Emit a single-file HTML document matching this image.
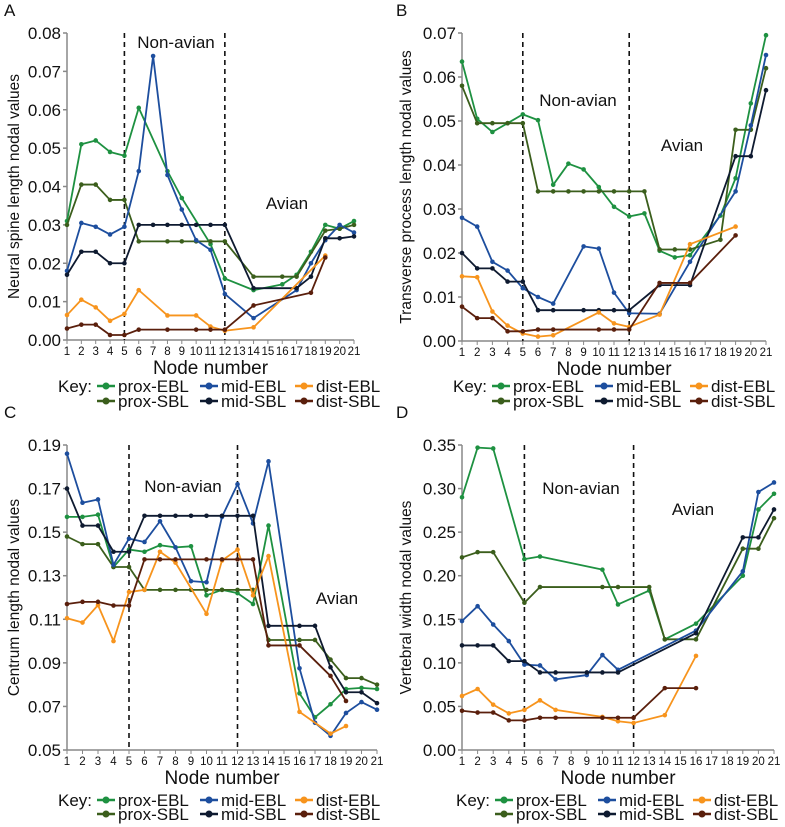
<!DOCTYPE html>
<html><head><meta charset="utf-8"><style>
body{margin:0;background:#fff;}
svg{display:block;font-family:"Liberation Sans",Arial,sans-serif;}
</style></head><body>
<svg id="chart" width="785" height="827" viewBox="0 0 785 827" xmlns="http://www.w3.org/2000/svg"></svg>
<script>
const nodes=[1,2,3,4,5,6,7,8,9,10,11,12,13,14,15,16,17,18,19,20,21];
const seriesNames=["prox-EBL","prox-SBL","mid-EBL","mid-SBL","dist-EBL","dist-SBL"];
const seriesColors=["#1e9141","#3b5e1c","#1d4e9e","#0e1a30","#f7941d","#5a1f0c"];
const N=null;
// Panel A
const A_proxEBL=[0.031,0.051,0.052,0.049,0.048,0.0605,N,0.044,0.037,N,0.025,0.016,N,0.013,N,0.0145,0.017,0.023,0.030,0.029,0.031];
const A_proxSBL=[0.030,0.0405,0.0405,0.0365,0.0365,0.0257,N,0.0257,0.0257,0.0257,0.0257,0.0257,N,0.0165,N,0.0165,0.0165,N,0.0285,0.029,0.030];
const A_midEBL=[0.018,0.0305,0.0295,0.0275,0.0295,0.044,0.074,0.043,0.034,0.026,0.0235,0.012,N,0.0057,N,N,0.013,0.020,0.026,0.030,0.028];
const A_midSBL=[0.017,0.023,0.023,0.020,0.020,0.030,0.030,0.030,0.030,0.030,0.030,0.030,N,0.0135,N,N,0.0135,0.0165,0.0265,0.0265,0.027];
const A_distEBL=[0.0065,0.0105,0.0085,0.005,0.0068,0.013,N,0.0064,N,0.0064,0.0035,0.0024,N,0.0033,N,N,N,N,0.022,N,N];
const A_distSBL=[0.003,0.004,0.004,0.0013,0.0013,0.0027,N,0.0027,N,0.0027,0.0027,0.0027,N,0.009,N,N,N,0.0123,0.0215,N,N];
const A_ticks=[0,0.01,0.02,0.03,0.04,0.05,0.06,0.07,0.08];
// Panel B
const B_proxEBL=[0.0635,0.0505,0.0475,0.0495,0.0515,0.0502,0.0355,0.0403,0.039,0.035,0.0305,0.0283,0.029,0.0205,0.019,0.0195,N,0.0285,0.037,0.054,0.0695];
const B_proxSBL=[0.058,0.0495,0.0495,0.0495,0.0495,0.034,0.034,0.034,0.034,0.034,0.034,0.034,0.034,0.0208,0.0208,0.0208,N,0.023,0.048,0.048,0.062];
const B_midEBL=[0.028,0.026,0.018,0.016,0.012,0.010,0.0085,N,0.0215,0.021,0.011,0.0063,N,0.0062,N,0.018,N,N,0.034,0.049,0.065];
const B_midSBL=[0.020,0.0165,0.0165,0.0135,0.0135,0.007,0.007,N,0.007,0.007,0.007,0.007,N,0.0127,N,0.0127,N,N,0.042,0.042,0.057];
const B_distEBL=[0.0147,0.0145,0.0067,0.0035,0.0017,0.001,0.0013,N,N,0.0065,0.004,0.0032,N,0.006,N,0.022,N,N,0.026,N,N];
const B_distSBL=[0.0078,0.0052,0.0052,0.0022,0.0022,0.0026,0.0026,N,N,0.0026,0.0026,0.0026,N,0.0132,N,0.0132,N,N,0.024,N,N];
const B_ticks=[0,0.01,0.02,0.03,0.04,0.05,0.06,0.07];
// Panel C
const C_proxEBL=[0.157,0.157,0.158,0.134,0.142,0.141,0.144,0.143,0.1435,0.121,0.1235,0.122,0.117,0.153,N,0.076,0.065,0.071,0.078,0.0785,0.078];
const C_proxSBL=[0.148,0.1445,0.1445,0.134,0.134,0.1235,0.1235,0.1235,0.1235,0.1235,0.1235,0.1235,0.1235,0.1005,N,0.1005,0.1005,0.0915,0.083,0.083,0.080];
const C_midEBL=[0.186,0.1635,0.165,0.135,0.147,0.1455,0.155,0.143,0.1275,0.127,0.157,0.172,0.154,0.1825,N,0.0875,0.0625,0.0565,0.067,0.072,0.0685];
const C_midSBL=[0.170,0.153,0.153,0.141,0.141,0.1575,0.1575,0.1575,0.1575,0.1575,0.1575,0.1575,0.1575,0.107,N,0.107,0.107,0.088,0.0765,0.0765,0.0715];
const C_distEBL=[0.1105,0.1085,0.1165,0.100,0.1225,0.1235,0.141,0.136,N,0.1125,0.137,0.142,0.121,0.139,N,0.0675,N,0.0575,0.061,N,N];
const C_distSBL=[0.117,0.118,0.118,0.1163,0.1163,0.1375,0.1375,0.1375,N,0.1375,0.1375,0.1375,0.1375,0.098,N,0.098,N,0.084,0.0725,N,N];
const C_ticks=[0.05,0.07,0.09,0.11,0.13,0.15,0.17,0.19];
// Panel D
const D_proxEBL=[0.290,0.347,0.346,N,0.219,0.222,N,N,N,0.207,0.167,N,0.183,0.127,N,0.145,N,N,0.200,0.276,0.294];
const D_proxSBL=[0.221,0.227,0.227,N,0.169,0.187,N,N,N,0.187,0.187,N,0.187,0.127,N,0.127,N,N,0.231,0.231,0.266];
const D_midEBL=[0.148,0.165,0.144,0.125,0.098,0.097,0.081,N,0.086,0.109,0.092,N,N,N,N,0.137,N,N,0.205,0.296,0.307];
const D_midSBL=[0.120,0.120,0.120,0.102,0.102,0.089,0.089,N,0.089,0.089,0.089,N,N,N,N,0.134,N,N,0.244,0.244,0.276];
const D_distEBL=[0.062,0.070,0.052,0.042,0.046,0.057,0.046,N,N,0.038,0.033,0.031,N,0.040,N,0.108,N,N,N,N,N];
const D_distSBL=[0.045,0.043,0.043,0.034,0.034,0.037,0.037,N,N,0.037,0.037,0.037,N,0.071,N,0.071,N,N,N,N,N];
const D_ticks=[0,0.05,0.10,0.15,0.20,0.25,0.30,0.35];

const panels=[
 {id:"a",letter:"A",lx:4,ly:16,ox:67,x21:354,yT:33,yB:340,min:0,max:0.08,ticks:A_ticks,series:[A_proxEBL,A_proxSBL,A_midEBL,A_midSBL,A_distEBL,A_distSBL],
  title:"Neural spine length nodal values",tx:13,na:[176,48],av:[287,209],leg:[58,386,401]},
 {id:"b",letter:"B",lx:396,ly:16,ox:462,x21:766,yT:33,yB:341,min:0,max:0.07,ticks:B_ticks,series:[B_proxEBL,B_proxSBL,B_midEBL,B_midSBL,B_distEBL,B_distSBL],
  title:"Transverse process length nodal values",tx:405,na:[578,106],av:[682,151],leg:[453,386,401]},
 {id:"c",letter:"C",lx:4,ly:418,ox:67,x21:377,yT:445,yB:750,min:0.05,max:0.19,ticks:C_ticks,series:[C_proxEBL,C_proxSBL,C_midEBL,C_midSBL,C_distEBL,C_distSBL],
  title:"Centrum length nodal values",tx:13,na:[183,492],av:[337,604],leg:[58,800,814]},
 {id:"d",letter:"D",lx:396,ly:418,ox:462,x21:774,yT:445,yB:750,min:0,max:0.35,ticks:D_ticks,series:[D_proxEBL,D_proxSBL,D_midEBL,D_midSBL,D_distEBL,D_distSBL],
  title:"Vertebral width nodal values",tx:405,na:[581,494],av:[693,515],leg:[456,800,814]}
];
const NS="http://www.w3.org/2000/svg";
const svg=document.getElementById("chart");
function mk(tag,attrs,parent){const e=document.createElementNS(NS,tag);for(const k in attrs)e.setAttribute(k,attrs[k]);(parent||svg).appendChild(e);return e;}
panels.forEach(p=>{
  const g=mk("g",{});
  
  
  const xs=n=>p.ox+(n-1)*(p.x21-p.ox)/20;
  const ys=v=>p.yB-(v-p.min)/(p.max-p.min)*(p.yB-p.yT);
  const L=mk("text",{x:p.lx,y:p.ly,"font-size":17,fill:"#111"},g);L.textContent=p.letter;
  
  
  const ya=mk("line",{x1:p.ox,y1:p.yT,x2:p.ox,y2:p.yB,stroke:"#888","stroke-width":1.5},g);
  
  
  const xa=mk("line",{x1:p.ox,y1:p.yB,x2:p.x21,y2:p.yB,stroke:"#888","stroke-width":1.5},g);
  
  
  p.ticks.forEach(t=>{
    const y=ys(t);
    mk("line",{x1:p.ox-4,y1:y,x2:p.ox,y2:y,stroke:"#888","stroke-width":1.5},g);
    const tl=mk("text",{x:p.ox-6,y:y+6,"font-size":17,"text-anchor":"end",fill:"#111"},g);
    tl.textContent=t.toFixed(2);
    
    
  });
  nodes.forEach(n=>{
    const x=xs(n);
    mk("line",{x1:x,y1:p.yB,x2:x,y2:p.yB+4,stroke:"#888","stroke-width":1},g);
    const tl=mk("text",{x:x,y:p.yB+15,"font-size":11.5,"text-anchor":"middle",fill:"#111"},g);
    tl.textContent=n;
    
    
  });
  const xt=mk("text",{x:(p.ox+p.x21)/2,y:p.yB+34,"font-size":19,"text-anchor":"middle",fill:"#111"},g);
  xt.textContent="Node number";
  
  
  const ycx=p.tx,ycy=(p.yT+p.yB)/2;
  const yt=mk("text",{x:ycx,y:ycy,"font-size":15.5,"text-anchor":"middle",fill:"#111",transform:`rotate(-90 ${ycx} ${ycy}) translate(0 6)`},g);
  yt.textContent=p.title;
  
  
  [5,12].forEach(n=>{
    const d=mk("line",{x1:xs(n),y1:p.yT,x2:xs(n),y2:p.yB,stroke:"#111","stroke-width":1.6,"stroke-dasharray":"5,4"},g);
    
    
  });
  const na=mk("text",{x:p.na[0],y:p.na[1],"font-size":17,"text-anchor":"middle",fill:"#111"},g);
  na.textContent="Non-avian";
  
  
  const av=mk("text",{x:p.av[0],y:p.av[1],"font-size":17,"text-anchor":"middle",fill:"#111"},g);
  av.textContent="Avian";
  
  
  p.series.forEach((vals,si)=>{
    const col=seriesColors[si];
    const pts=[];
    vals.forEach((v,i)=>{if(v!==null)pts.push([xs(nodes[i]),ys(v)]);});
    const pl=mk("polyline",{points:pts.map(q=>q.join(",")).join(" "),fill:"none",stroke:col,"stroke-width":1.8,"stroke-linejoin":"round"},g);
    
    
    pts.forEach(q=>{
      const c=mk("circle",{cx:q[0],cy:q[1],r:2.3,fill:col},g);
      
      
    });
  });
  const lg=mk("g",{},g);
  
  
  const [kx,r1,r2]=p.leg;
  const k=mk("text",{x:kx,y:r1+6,"font-size":17,fill:"#111"},lg);k.textContent="Key:";
  
  
  const cols=[kx+39,kx+142,kx+237];
  seriesNames.forEach((nm,si)=>{
    const cx=cols[Math.floor(si/2)],cy=si%2?r2:r1;
    mk("line",{x1:cx,y1:cy,x2:cx+18,y2:cy,stroke:seriesColors[si],"stroke-width":2.5},lg);
    mk("circle",{cx:cx+9,cy:cy,r:3.5,fill:seriesColors[si]},lg);
    const t=mk("text",{x:cx+21,y:cy+6,"font-size":17,fill:"#111"},lg);
    t.textContent=nm;
    
    
  });
});
</script>
</body></html>
